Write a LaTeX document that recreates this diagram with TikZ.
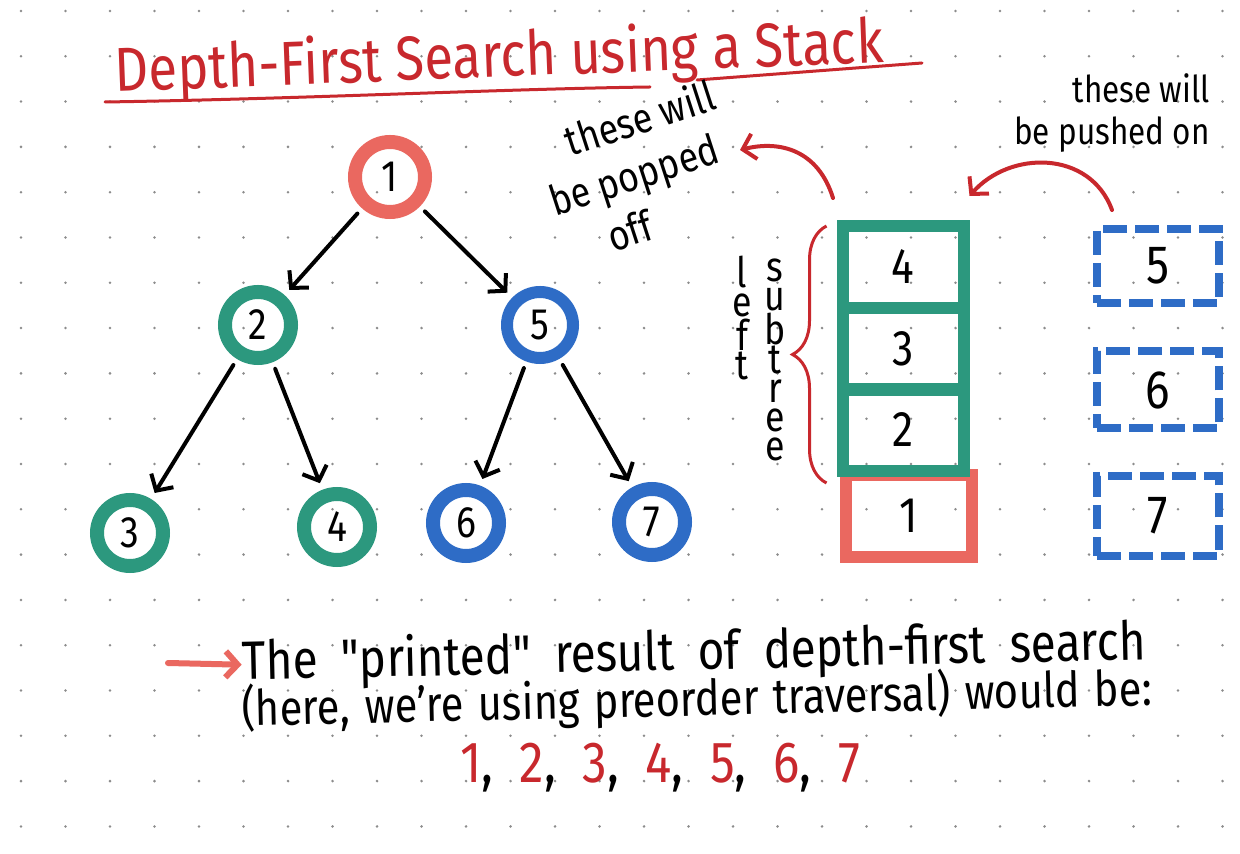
\documentclass[tikz,border=0pt]{standalone}
\usepackage{fontspec}
\setmainfont{Fira Sans}[FakeStretch=0.85, Ligatures=TeXOff]
\usetikzlibrary{arrows.meta,decorations.pathreplacing}

\definecolor{titlered}{RGB}{200,40,45}
\definecolor{ringred}{RGB}{234,104,96}
\definecolor{ringgreen}{RGB}{44,152,126}
\definecolor{ringblue}{RGB}{46,108,198}
\definecolor{dotgray}{RGB}{140,140,140}

\begin{document}
\begin{tikzpicture}[
    x=0.5pt, y=-0.5pt,
    every node/.style={font=\fontsize{22}{24}\selectfont, inner sep=0pt},
    vertex/.style={
        circle,
        draw,
        line width=7pt,
        minimum size=33pt
    },
    edge/.style={
        -{Straight Barb[length=6pt,width=13pt]},
        line width=2pt,
        line cap=round,
        shorten <=3.5pt,
        shorten >=3.5pt
    },
    slot/.style={
        draw=ringgreen,
        line width=6pt,
        minimum width=60.5pt,
        minimum height=41pt,
        font=\fontsize{25}{27}\selectfont
    },
    waiting/.style={
        draw=ringblue,
        line width=4pt,
        dash pattern=on 12pt off 4pt,
        minimum width=61pt,
        font=\fontsize{27}{29}\selectfont
    },
    curve/.style={
        -{Straight Barb[length=6pt,width=13pt]},
        draw=titlered,
        line width=2pt,
        line cap=round
    },
    note/.style={font=\fontsize{21}{26}\selectfont},
    body/.style={font=\fontsize{24.5}{26}\selectfont, anchor=base west, rotate=1.3}
]

    % paper
    \fill[white] (0,0) rectangle (1240,854);
    \foreach \i in {0,...,27} {
        \foreach \j in {0,...,18} {
            \fill[dotgray] (21+44.5*\i, 11+45.3*\j) circle (0.7pt);
        }
    }

    % Title
    \node[font=\fontsize{31}{33}\selectfont, text=titlered, anchor=base, rotate=2.2] (title) at (500,77) {Depth-First Search using a Stack};
    \draw[titlered, line width=1.5pt, line cap=round] (105,102) .. controls (300,99) and (500,89) .. (650,87);
    \draw[titlered, line width=1.5pt, line cap=round] (697,80) -- (922,63);

    % Tree
    \node[vertex, draw=ringred, minimum size=35pt] (n1) at (390,177) {1};
    \node[vertex, draw=ringgreen] (n2) at (258,325) {2};
    \node[vertex, draw=ringblue, line width=6pt] (n5) at (540,325) {5};
    \node[vertex, draw=ringgreen] (n3) at (130,533) {3};
    \node[vertex, draw=ringgreen] (n4) at (337,527) {4};
    \node[vertex, draw=ringblue] (n6) at (466,523) {6};
    \node[vertex, draw=ringblue] (n7) at (652,522) {7};

    \draw[edge] (n1) -- (n2);
    \draw[edge] (n1) -- (n5);
    \draw[edge] (n2) -- (n3);
    \draw[edge] (n2) -- (n4);
    \draw[edge] (n5) -- (n6);
    \draw[edge] (n5) -- (n7);

    % Stack
    \node[slot, draw=ringred, minimum width=63pt, minimum height=40.5pt] (s1) at (909,516) {1};
    \node[slot] (s2) at (903,430) {2};
    \node[slot] (s3) at (903,349) {3};
    \node[slot] (s4) at (903,267) {4};

    \draw[titlered, line width=1.5pt, decorate, decoration={brace, amplitude=17pt}]
        ([xshift=-5pt, yshift=-3pt]s2.south west) -- ([xshift=-5pt, yshift=-3pt]s4.north west);
    \node[font=\fontsize{21}{14.5}\selectfont, align=center] (leftword) at (742,318) {l\\e\\f\\t};
    \node[font=\fontsize{21}{14.5}\selectfont, align=center] (subword) at (775,360) {s\\u\\b\\t\\r\\e\\e};

    % Waiting to be pushed
    \node[waiting, minimum height=37pt] (w5) at (1158,266) {5};
    \node[waiting, minimum height=38.5pt] (w6) at (1158,390) {6};
    \node[waiting, minimum height=39.5pt] (w7) at (1158,516) {7};

    % Notes
    \node[note, rotate=18, align=left] (popped) at (640,172) {\hspace*{0.8em}these will\\be popped\\\hspace*{1.05em}off};
    \coordinate (popstart) at (833,198);
    \coordinate (popend) at (740,150);
    \draw[curve] (popstart) .. controls (818,150) and (780,140) .. (popend);

    \node[note, font=\fontsize{18.5}{21}\selectfont, anchor=east, align=right] (pushed) at (1210,113) {these will\\be pushed on};
    \coordinate (pushstart) at (1112,210);
    \draw[curve] (pushstart) .. controls (1090,150) and (1010,150) .. ([yshift=12pt]s4.north east);

    % Result
    \node[body, font=\fontsize{27}{29}\selectfont] (line1) at (242,680) {\makebox[452pt][s]{The "printed" result of depth-first search}};
    \node[body] (line2) at (242,726) {\makebox[455pt][s]{(here, we’re using preorder traversal) would be:}};
    \node[font=\fontsize{29}{31}\selectfont, anchor=base] (order) at (660,782) {\makebox[200pt][s]{%
        \textcolor{titlered}{1}, \textcolor{titlered}{2}, \textcolor{titlered}{3}, \textcolor{titlered}{4}, \textcolor{titlered}{5}, \textcolor{titlered}{6}, \textcolor{titlered}{7}}};
    \coordinate (bullet) at (168,663);
    \draw[curve, draw=ringred, line width=3pt] (bullet) -- (line1.west);

\end{tikzpicture}
\end{document}
